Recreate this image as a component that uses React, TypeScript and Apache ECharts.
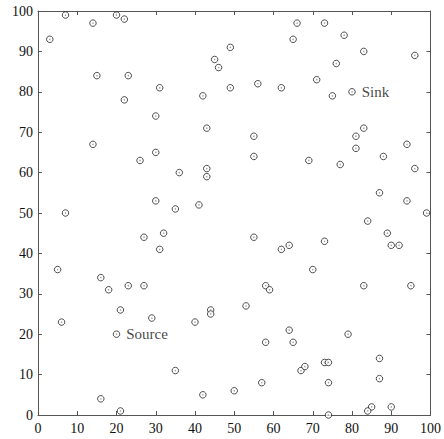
import React, { useEffect, useRef } from "react";
import * as echarts from "echarts";

const xValues: number[] = [
  3, 7, 14, 20, 22, 15, 23, 31, 22, 42, 45, 46, 49, 49, 30, 43, 14,
  66, 73, 65, 78, 83, 96, 76, 56, 62, 71, 75, 80, 83, 81, 55, 81, 94,
  30, 26, 36, 43, 43, 30, 35, 41, 7, 32, 27, 31, 5, 16, 18, 23, 27,
  55, 69, 77, 88, 96, 87, 94, 99, 84, 89, 90, 92, 55, 62, 64, 73, 70, 58, 59, 83, 95,
  6, 21, 29, 20, 40, 44, 44, 35, 16, 21, 42, 50,
  53, 64, 58, 65, 79, 73, 74, 67, 68, 87, 87, 57, 74, 85, 84, 90, 74,
];
const yValues: number[] = [
  93, 99, 97, 99, 98, 84, 84, 81, 78, 79, 88, 86, 91, 81, 74, 71, 67,
  97, 97, 93, 94, 90, 89, 87, 82, 81, 83, 79, 80, 71, 69, 69, 66, 67,
  65, 63, 60, 61, 59, 53, 51, 52, 50, 45, 44, 41, 36, 34, 31, 32, 32,
  64, 63, 62, 64, 61, 55, 53, 50, 48, 45, 42, 42, 44, 41, 42, 43, 36, 32, 31, 32, 32,
  23, 26, 24, 20, 23, 26, 25, 11, 4, 1, 5, 6,
  27, 21, 18, 18, 20, 13, 13, 11, 12, 14, 9, 8, 8, 2, 1, 2, 0,
];
const pointNames: Record<string, string> = { "80,80": "Sink", "20,20": "Source" };
const tickValues: number[] = [0, 10, 20, 30, 40, 50, 60, 70, 80, 90, 100];

export default function App() {
  const ref = useRef<HTMLDivElement>(null);
  useEffect(() => {
    if (!ref.current) return;
    const chart = echarts.init(ref.current, undefined, { renderer: "svg" });
    const font = "'Liberation Serif', 'Times New Roman', serif";
    const data = xValues.map((x, i) => {
      const y = yValues[i];
      const name = pointNames[`${x},${y}`];
      if (name) {
        return {
          value: [x, y],
          label: {
            show: true,
            position: "right",
            formatter: name,
            fontFamily: font,
            fontSize: 15,
            color: "#111",
            distance: 6,
          },
        };
      }
      return { value: [x, y] };
    });
    const dots = xValues.map((x, i) => [x, yValues[i]]);
    const axisCommon = {
      min: 0,
      max: 100,
      interval: 10,
      axisLine: { show: true, onZero: false, lineStyle: { color: "#555", width: 1 } },
      axisTick: { show: true, inside: true, length: 4, lineStyle: { color: "#555" } },
      splitLine: { show: false },
      axisLabel: { fontFamily: font, fontSize: 14, color: "#111", margin: 6 },
    };
    const axisMirror = {
      min: 0,
      max: 100,
      interval: 10,
      axisLine: { show: true, onZero: false, lineStyle: { color: "#555", width: 1 } },
      axisTick: { show: true, inside: true, length: 4, lineStyle: { color: "#555" } },
      splitLine: { show: false },
      axisLabel: { show: false },
    };
    chart.setOption({
      animation: false,
      backgroundColor: "#fff",
      grid: { left: 38, right: 6, top: 11, bottom: 24, containLabel: false },
      xAxis: [
        { type: "value", position: "bottom", ...axisCommon, axisLabel: { ...axisCommon.axisLabel, customValues: tickValues } },
        { type: "value", position: "top", ...axisMirror },
      ],
      yAxis: [
        { type: "value", position: "left", ...axisCommon, axisLabel: { ...axisCommon.axisLabel, margin: 5 } },
        { type: "value", position: "right", ...axisMirror },
      ],
      series: [
        {
          type: "scatter",
          xAxisIndex: 0,
          yAxisIndex: 0,
          symbol: "circle",
          symbolSize: 6.5,
          itemStyle: { color: "#fff", borderColor: "#222", borderWidth: 1 },
          data,
        },
        {
          type: "scatter",
          xAxisIndex: 0,
          yAxisIndex: 0,
          symbol: "circle",
          symbolSize: 1.5,
          silent: true,
          itemStyle: { color: "#888" },
          data: dots,
        },
      ],
    });
    return () => chart.dispose();
  }, []);
  return <div ref={ref} style={{ width: 444, height: 439, position: "absolute", left: 0, top: 0 }} />;
}
